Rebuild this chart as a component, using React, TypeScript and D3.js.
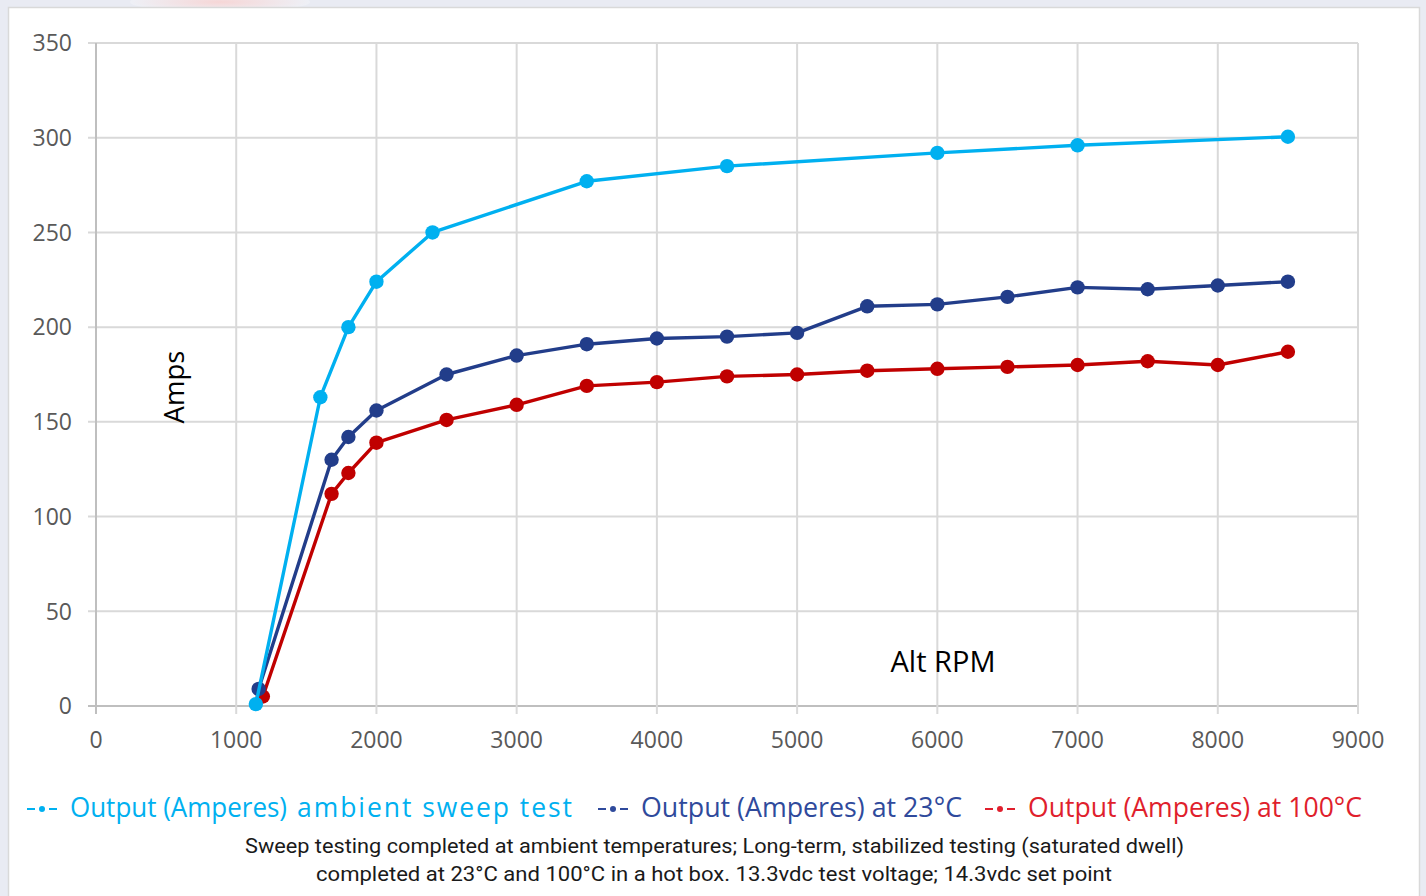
import React from "react";
import * as d3 from "d3";

const xTicks = [0, 1000, 2000, 3000, 4000, 5000, 6000, 7000, 8000, 9000];
const yTicks = [0, 50, 100, 150, 200, 250, 300, 350];

const ambientRpm = [1140, 1600, 1800, 2000, 2400, 3500, 4500, 6000, 7000, 8500];
const ambientAmps = [1, 163, 200, 224, 250, 277, 285, 292, 296, 300.5];

const t23Rpm = [1160, 1680, 1800, 2000, 2500, 3000, 3500, 4000, 4500, 5000, 5500, 6000, 6500, 7000, 7500, 8000, 8500];
const t23Amps = [9, 130, 142, 156, 175, 185, 191, 194, 195, 197, 211, 212, 216, 221, 220, 222, 224];

const t100Rpm = [1190, 1680, 1800, 2000, 2500, 3000, 3500, 4000, 4500, 5000, 5500, 6000, 6500, 7000, 7500, 8000, 8500];
const t100Amps = [5, 112, 123, 139, 151, 159, 169, 171, 174, 175, 177, 178, 179, 180, 182, 180, 187];

const seriesNames = [
  "Output (Amperes) ambient sweep test",
  "Output (Amperes) at 23°C",
  "Output (Amperes) at 100°C",
];
const captionLines = [
  "Sweep testing completed at ambient temperatures; Long-term, stabilized testing (saturated dwell)",
  "completed at 23°C and 100°C in a hot box. 13.3vdc test voltage; 14.3vdc set point",
];

const W = 1426;
const H = 896;
const L = 96, R = 1358, T = 43, B = 706;

function LegendSymbol({ x0, yc, color }: { x0: number; yc: number; color: string }) {
  return (
    <g stroke={color} strokeWidth={2}>
      <line x1={x0} x2={x0 + 8} y1={yc} y2={yc} />
      <circle cx={x0 + 15} cy={yc} r={3} fill={color} stroke="none" />
      <line x1={x0 + 22} x2={x0 + 30} y1={yc} y2={yc} />
    </g>
  );
}

export default function App() {
  const x = d3.scaleLinear().domain([0, 9000]).range([L, R]);
  const y = d3.scaleLinear().domain([0, 350]).range([B, T]);
  const line = d3
    .line<[number, number]>()
    .x((d) => x(d[0]))
    .y((d) => y(d[1]));

  const series = [
    { rpm: ambientRpm, amps: ambientAmps, color: "#00b0f0" },
    { rpm: t23Rpm, amps: t23Amps, color: "#223d8a" },
    { rpm: t100Rpm, amps: t100Amps, color: "#c00000" },
  ];
  const drawOrder = [2, 1, 0];

  const font = "'Open Sans', 'Noto Sans', sans-serif";
  const capFont = "Roboto, 'Noto Sans', sans-serif";
  const legY = 817;
  const legC = 809;

  return (
    <div style={{ position: "absolute", left: 0, top: 0, width: W, height: H }}>
      <svg width={W} height={H} style={{ display: "block" }}>
        <defs>
          <radialGradient id="pinkglow" cx="0.5" cy="0.5" r="0.5">
            <stop offset="0%" stopColor="#f6d6d6" />
            <stop offset="100%" stopColor="#eef0f6" />
          </radialGradient>
        </defs>
        <rect x={0} y={0} width={W} height={H} fill="#e9ebf3" />
        <ellipse cx={220} cy={2} rx={90} ry={10} fill="url(#pinkglow)" />
        <rect x={8.5} y={7.5} width={1411} height={H} fill="#ffffff" stroke="#d9d9d9" strokeWidth={1.5} />

        {/* grid */}
        {yTicks.map((t) => (
          <line key={"gy" + t} x1={L - 8} x2={R} y1={y(t)} y2={y(t)} stroke={t === 0 ? "#bfbfbf" : "#d9d9d9"} strokeWidth={2} />
        ))}
        {xTicks.map((t) => (
          <line key={"gx" + t} x1={x(t)} x2={x(t)} y1={T} y2={B + 8} stroke={t === 0 ? "#bfbfbf" : "#d9d9d9"} strokeWidth={2} />
        ))}

        {/* tick labels */}
        {yTicks.map((t) => (
          <text key={"ty" + t} x={72} y={y(t)} dy="0.36em" textAnchor="end" fontFamily={font} fontSize={23} fill="#595959">
            {t}
          </text>
        ))}
        {xTicks.map((t) => (
          <text key={"tx" + t} x={x(t)} y={748} textAnchor="middle" fontFamily={font} fontSize={23} fill="#595959">
            {t}
          </text>
        ))}

        {/* axis titles */}
        <text x={0} y={0} transform={`translate(184,387) rotate(-90)`} textAnchor="middle" fontFamily={font} fontSize={27.5} fill="#000">
          Amps
        </text>
        <text x={943} y={672} textAnchor="middle" fontFamily={font} fontSize={29} fill="#000">
          Alt RPM
        </text>

        {/* series */}
        {drawOrder.map((i) => {
          const s = series[i];
          const pts = s.rpm.map((r, k) => [r, s.amps[k]] as [number, number]);
          return (
            <g key={"s" + i}>
              <path d={line(pts) || ""} fill="none" stroke={s.color} strokeWidth={3.4} strokeLinejoin="round" />
              {pts.map((p, k) => (
                <circle key={k} cx={x(p[0])} cy={y(p[1])} r={7.2} fill={s.color} />
              ))}
            </g>
          );
        })}

        {/* legend */}
        <g fontFamily={font} fontSize={26.5}>
          <LegendSymbol x0={27} yc={legC} color="#00b0f0" />
          <text x={70} y={legY} fill="#00b0f0" textLength={217} lengthAdjust="spacingAndGlyphs">
            Output (Amperes)
          </text>
          <text x={297} y={legY} fill="#00b0f0" textLength={275} lengthAdjust="spacing">
            ambient sweep test
          </text>
          <LegendSymbol x0={598} yc={legC} color="#2f4a9c" />
          <text x={641} y={legY} fill="#2f4a9c" textLength={321} lengthAdjust="spacingAndGlyphs">
            {seriesNames[1]}
          </text>
          <LegendSymbol x0={985} yc={legC} color="#e01f2d" />
          <text x={1028} y={legY} fill="#e01f2d" textLength={334} lengthAdjust="spacingAndGlyphs">
            {seriesNames[2]}
          </text>
        </g>

        {/* caption */}
        <text x={245} y={853} fontFamily={capFont} fontSize={20.5} fill="#1a1a1a" textLength={939} lengthAdjust="spacingAndGlyphs">
          {captionLines[0]}
        </text>
        <text x={316} y={881} fontFamily={capFont} fontSize={20.5} fill="#1a1a1a" textLength={796} lengthAdjust="spacingAndGlyphs">
          {captionLines[1]}
        </text>
      </svg>
    </div>
  );
}
